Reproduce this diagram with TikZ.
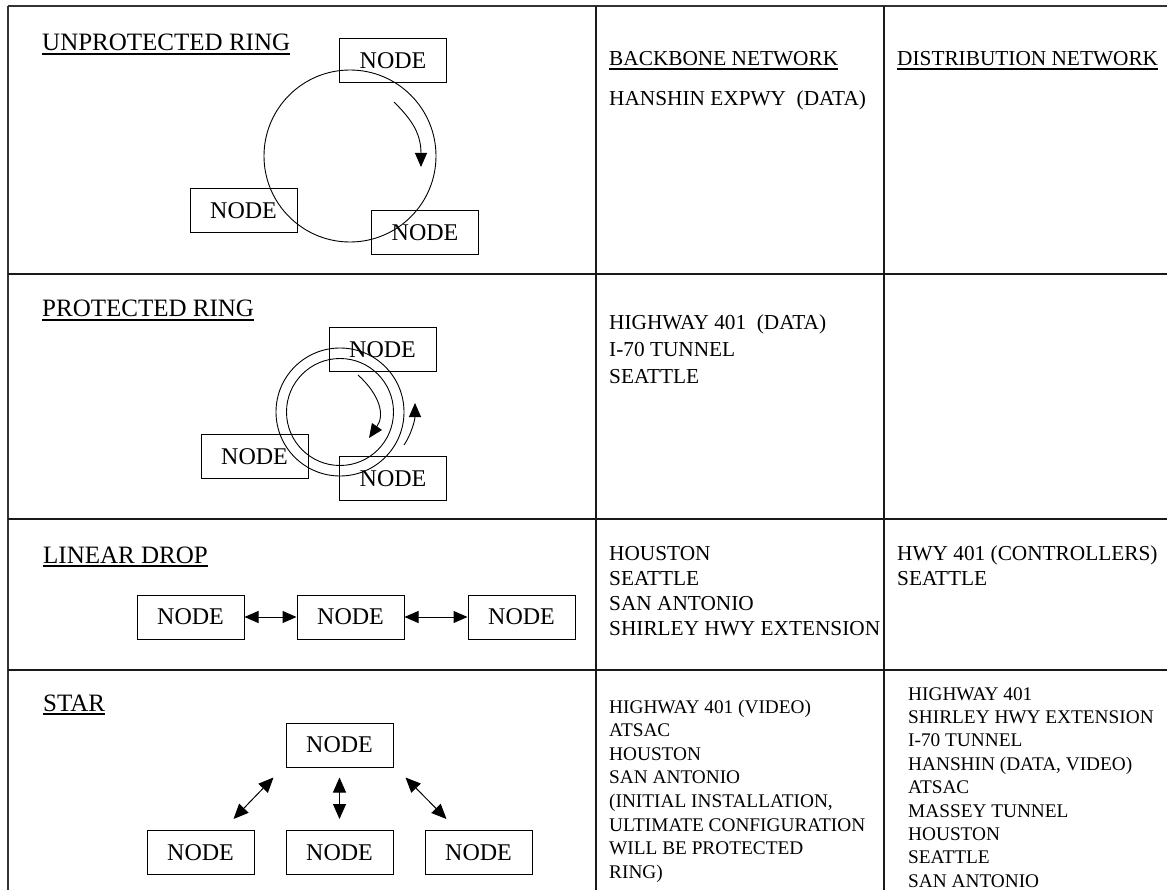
\documentclass[tikz,border=0pt]{standalone}
\usepackage{fontspec}
\setmainfont{Liberation Serif}
\usetikzlibrary{arrows.meta}
\begin{document}
\begin{tikzpicture}[x=1pt,y=-1pt,
  outer/.style={line width=1.8pt, draw=black!80},
  inner/.style={line width=1.3pt, draw=black!90},
  box/.style={draw, line width=1pt, minimum width=107pt, minimum height=44pt,
    inner sep=0pt, font=\fontsize{24}{24}\selectfont},
  ring/.style={draw, circle, line width=0.9pt, inner sep=0pt},
  ttl/.style={anchor=base west, inner sep=0pt, font=\fontsize{25}{25}\selectfont},
  hd/.style={anchor=base west, inner sep=0pt, font=\fontsize{21.3}{21.3}\selectfont},
  sm/.style={anchor=base west, inner sep=0pt, font=\fontsize{19.3}{19.3}\selectfont},
  uline/.style={line width=1.3pt},
  flow/.style={line width=0.9pt, -{Triangle[length=14pt,width=12pt]}},
  dbl/.style={line width=1pt, {Triangle[length=14pt,width=12pt]}-{Triangle[length=14pt,width=12pt]}},
  sdbl/.style={line width=1pt, {Triangle[length=15pt,width=13pt]}-{Triangle[length=15pt,width=13pt]}},
]
\useasboundingbox (0,0) rectangle (1167,890);

% table rules
\draw[outer] (8,6) -- (1170,6);
\draw[outer] (8,6) -- (8,895);
\draw[inner] (8,274) -- (1170,274);
\draw[inner] (8,519) -- (1170,519);
\draw[inner] (8,670) -- (1170,670);
\draw[inner] (596,6) -- (596,895);
\draw[inner] (884,6) -- (884,895);

% column headings
\node[hd] (hb) at (609,66) {BACKBONE NETWORK};
\node[hd] (hdn) at (897,66) {DISTRIBUTION NETWORK};
\draw[uline] ([yshift=-3pt]hb.base west) -- ([yshift=-3pt]hb.base east);
\draw[uline] ([yshift=-3pt]hdn.base west) -- ([yshift=-3pt]hdn.base east);

% ---- unprotected ring
\node[ttl] (t1) at (42,51) {UNPROTECTED RING};
\draw[uline] ([yshift=-3pt]t1.base west) -- ([yshift=-3pt]t1.base east);
\node[ring, minimum size=172pt] (uring) at (350,156) {};
\node[box] (uA) at (393,61) {NODE};
\node[box] (uB) at (243.5,210.5) {NODE};
\node[box] (uC) at (425,232.5) {NODE};
\coordinate (ua0) at (394,102);
\coordinate (ua1) at (421,167);
\draw[flow] (ua0) .. controls (410,118) and (421,132) .. (ua1);
\node[hd] (b1) at (609,106) {HANSHIN EXPWY\ \ (DATA)};

% ---- protected ring
\node[ttl] (t2) at (42,317) {PROTECTED RING};
\draw[uline] ([yshift=-3pt]t2.base west) -- ([yshift=-3pt]t2.base east);
\node[ring, minimum size=128pt] (pout) at (340,412) {};
\node[ring, minimum size=107pt] (pin) at (340,412) {};
\node[box] (pA) at (382.5,349.5) {NODE};
\node[box] (pB) at (254.5,456.5) {NODE};
\node[box] (pC) at (393,478.5) {NODE};
\coordinate (pa0) at (358,375);
\coordinate (pa1) at (369,438);
\draw[flow] (pa0) .. controls (380,395) and (385,415) .. (pa1);
\coordinate (pb0) at (404,445);
\coordinate (pb1) at (415,403);
\draw[flow] (pb0) .. controls (411,435) and (415,420) .. (pb1);
\foreach \t [count=\i] in {HIGHWAY 401\ \ (DATA), I-70 TUNNEL, SEATTLE}
  \node[hd] (b2-\i) at (609,330+27*\i-27) {\t};

% ---- linear drop
\node[ttl] (t3) at (43,563) {LINEAR DROP};
\draw[uline] ([yshift=-3pt]t3.base west) -- ([yshift=-3pt]t3.base east);
\node[box] (lA) at (190.5,617) {NODE};
\node[box] (lB) at (350.5,617) {NODE};
\node[box] (lC) at (521.5,617) {NODE};
\draw[dbl] (lA) -- (lB);
\draw[dbl] (lB) -- (lC);
\foreach \t [count=\i] in {HOUSTON, SEATTLE, SAN ANTONIO, SHIRLEY HWY EXTENSION}
  \node[hd] (b3-\i) at (609,560+25*\i-25) {\t};
\foreach \t [count=\i] in {HWY 401 (CONTROLLERS), SEATTLE}
  \node[hd] (d3-\i) at (897,560+25*\i-25) {\t};

% ---- star
\node[ttl] (t4) at (43,711) {STAR};
\draw[uline] ([yshift=-3pt]t4.base west) -- ([yshift=-3pt]t4.base east);
\node[box] (sT) at (339.5,745) {NODE};
\node[box] (sL) at (200.5,852.5) {NODE};
\node[box] (sM) at (339.5,852.5) {NODE};
\node[box] (sR) at (478.5,852.5) {NODE};
\draw[sdbl] ([xshift=-12pt,yshift=-10pt]sT.south west) -- ([xshift=-21pt,yshift=11pt]sL.north east);
\draw[sdbl, shorten <=10pt, shorten >=11pt] (sT.south) -- (sM.north);
\draw[sdbl] ([xshift=12pt,yshift=-10pt]sT.south east) -- ([xshift=22pt,yshift=11pt]sR.north west);
\foreach \t [count=\i] in {HIGHWAY 401 (VIDEO), ATSAC, HOUSTON, SAN ANTONIO,
    {(INITIAL INSTALLATION,}, ULTIMATE CONFIGURATION, WILL BE PROTECTED, RING)}
  \node[sm] (b4-\i) at (609,713+23.6*\i-23.6) {\t};
\foreach \t [count=\i] in {HIGHWAY 401, SHIRLEY HWY EXTENSION, I-70 TUNNEL,
    {HANSHIN (DATA, VIDEO)}, ATSAC, MASSEY TUNNEL, HOUSTON, SEATTLE, SAN ANTONIO}
  \node[sm] (d4-\i) at (908,700+23.4*\i-23.4) {\t};
\end{tikzpicture}
\end{document}
